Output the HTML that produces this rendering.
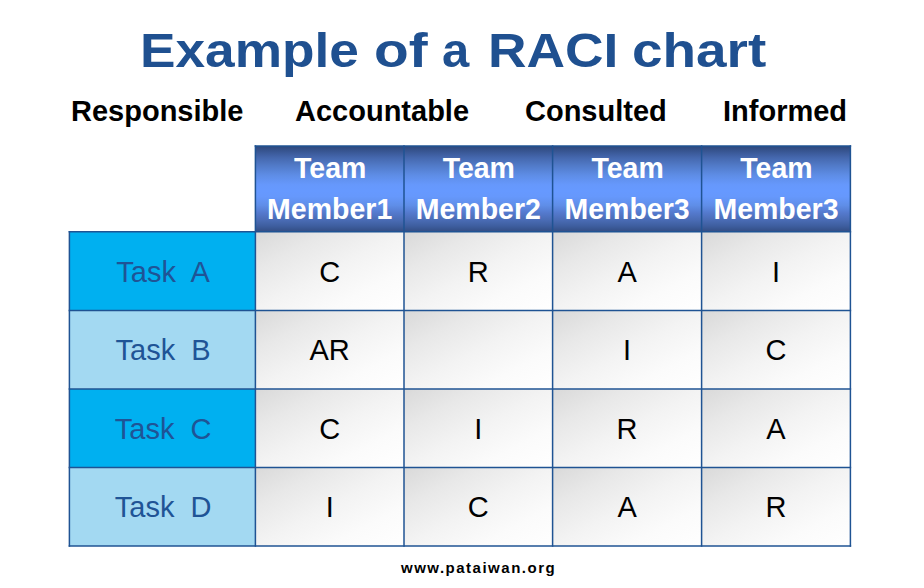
<!DOCTYPE html>
<html><head><meta charset="utf-8"><style>
html,body{margin:0;padding:0;background:#fff;width:924px;height:588px;overflow:hidden}
.b{position:absolute}
.hdr{background:linear-gradient(to bottom,#2D477B 0%,#4466AC 13%,#5079C6 22%,#5E8DE6 34%,#6698FC 45%,#6699FF 52%,#6698FC 59%,#5F8EE8 69%,#5479CC 78%,#4A6CB5 86%,#3E5E9F 93%,#324C82 100%)}
.cell{background:linear-gradient(to bottom right,#D9D9D9 0%,#E8E8E8 25%,#F3F3F3 50%,#FBFBFB 75%,#FFFFFF 100%)}
.t{position:absolute;white-space:pre;line-height:1;font-family:"Liberation Sans",sans-serif;transform-origin:0 0}
.title{font-weight:bold;font-size:48px;color:#1F5090}
.lab{font-weight:bold;font-size:29px;color:#000}
.hd{font-weight:bold;font-size:28.5px;color:#fff;text-align:center;width:148px;transform:scaleY(1.05)}
.tk{font-size:29px;color:#1F5496;text-align:center}
.cv{font-size:29px;color:#000;text-align:center}
.ft{font-weight:bold;font-size:15px;color:#000;letter-spacing:1.5px}
svg{position:absolute;left:0;top:0}
</style></head><body>
<div class="b hdr" style="left:255.4px;top:146px;width:595.0px;height:85.69999999999999px"></div><div class="b" style="left:69.4px;top:231.7px;width:186.0px;height:78.80000000000001px;background:#00B0F0"></div><div class="b cell" style="left:255.4px;top:231.7px;width:148.6px;height:78.80000000000001px"></div><div class="b cell" style="left:404.0px;top:231.7px;width:148.60000000000002px;height:78.80000000000001px"></div><div class="b cell" style="left:552.6px;top:231.7px;width:149.0px;height:78.80000000000001px"></div><div class="b cell" style="left:701.6px;top:231.7px;width:148.79999999999995px;height:78.80000000000001px"></div><div class="b" style="left:69.4px;top:310.5px;width:186.0px;height:78.39999999999998px;background:#A3D9F2"></div><div class="b cell" style="left:255.4px;top:310.5px;width:148.6px;height:78.39999999999998px"></div><div class="b cell" style="left:404.0px;top:310.5px;width:148.60000000000002px;height:78.39999999999998px"></div><div class="b cell" style="left:552.6px;top:310.5px;width:149.0px;height:78.39999999999998px"></div><div class="b cell" style="left:701.6px;top:310.5px;width:148.79999999999995px;height:78.39999999999998px"></div><div class="b" style="left:69.4px;top:388.9px;width:186.0px;height:78.5px;background:#00B0F0"></div><div class="b cell" style="left:255.4px;top:388.9px;width:148.6px;height:78.5px"></div><div class="b cell" style="left:404.0px;top:388.9px;width:148.60000000000002px;height:78.5px"></div><div class="b cell" style="left:552.6px;top:388.9px;width:149.0px;height:78.5px"></div><div class="b cell" style="left:701.6px;top:388.9px;width:148.79999999999995px;height:78.5px"></div><div class="b" style="left:69.4px;top:467.4px;width:186.0px;height:78.60000000000002px;background:#A3D9F2"></div><div class="b cell" style="left:255.4px;top:467.4px;width:148.6px;height:78.60000000000002px"></div><div class="b cell" style="left:404.0px;top:467.4px;width:148.60000000000002px;height:78.60000000000002px"></div><div class="b cell" style="left:552.6px;top:467.4px;width:149.0px;height:78.60000000000002px"></div><div class="b cell" style="left:701.6px;top:467.4px;width:148.79999999999995px;height:78.60000000000002px"></div>
<svg width="924" height="588" viewBox="0 0 924 588"><line x1="254.65" y1="146" x2="851.15" y2="146" stroke="#1F5393" stroke-width="1.5"/><line x1="68.65" y1="231.7" x2="851.15" y2="231.7" stroke="#1F5393" stroke-width="1.5"/><line x1="68.65" y1="310.5" x2="851.15" y2="310.5" stroke="#1F5393" stroke-width="1.5"/><line x1="68.65" y1="388.9" x2="851.15" y2="388.9" stroke="#1F5393" stroke-width="1.5"/><line x1="68.65" y1="467.4" x2="851.15" y2="467.4" stroke="#1F5393" stroke-width="1.5"/><line x1="68.65" y1="546.0" x2="851.15" y2="546.0" stroke="#1F5393" stroke-width="1.5"/><line x1="255.4" y1="145.25" x2="255.4" y2="546.75" stroke="#1F5393" stroke-width="1.5"/><line x1="404.0" y1="145.25" x2="404.0" y2="546.75" stroke="#1F5393" stroke-width="1.5"/><line x1="552.6" y1="145.25" x2="552.6" y2="546.75" stroke="#1F5393" stroke-width="1.5"/><line x1="701.6" y1="145.25" x2="701.6" y2="546.75" stroke="#1F5393" stroke-width="1.5"/><line x1="850.4" y1="145.25" x2="850.4" y2="546.75" stroke="#1F5393" stroke-width="1.5"/><line x1="69.4" y1="230.95" x2="69.4" y2="546.75" stroke="#1F5393" stroke-width="1.5"/></svg>
<div class="t title" style="left:139.98px;top:27px;transform:scaleX(1.1083)">Example</div>
<div class="t title" style="left:373.53px;top:27px;transform:scaleX(1.1837)">of</div>
<div class="t title" style="left:441.68px;top:27px;transform:scaleX(1.0192)">a</div>
<div class="t title" style="left:487.86px;top:27px;transform:scaleX(1.1117)">RACI</div>
<div class="t title" style="left:631.61px;top:27px;transform:scaleX(1.1435)">chart</div>
<div class="t lab" style="left:71px;top:97.2px">Responsible</div>
<div class="t lab" style="left:295px;top:97.2px">Accountable</div>
<div class="t lab" style="left:525px;top:97.2px">Consulted</div>
<div class="t lab" style="left:723px;top:97.2px">Informed</div>
<div class="t hd" style="left:256.2px;top:153.4px">Team</div>
<div class="t hd" style="left:255.7px;top:194.2px">Member1</div>
<div class="t hd" style="left:404.8px;top:153.4px">Team</div>
<div class="t hd" style="left:404.3px;top:194.2px">Member2</div>
<div class="t hd" style="left:553.6px;top:153.4px">Team</div>
<div class="t hd" style="left:553.1px;top:194.2px">Member3</div>
<div class="t hd" style="left:702.5px;top:153.4px">Team</div>
<div class="t hd" style="left:702.0px;top:194.2px">Member3</div>
<div class="t tk" style="left:70.10000000000001px;width:186.0px;top:257.5px">Task  A</div>
<div class="t cv" style="left:255.7px;width:148px;top:257.5px">C</div>
<div class="t cv" style="left:404.3px;width:148px;top:257.5px">R</div>
<div class="t cv" style="left:553.1px;width:148px;top:257.5px">A</div>
<div class="t cv" style="left:702.0px;width:148px;top:257.5px">I</div>
<div class="t tk" style="left:70.10000000000001px;width:186.0px;top:336.3px">Task  B</div>
<div class="t cv" style="left:255.7px;width:148px;top:336.3px">AR</div>
<div class="t cv" style="left:553.1px;width:148px;top:336.3px">I</div>
<div class="t cv" style="left:702.0px;width:148px;top:336.3px">C</div>
<div class="t tk" style="left:70.10000000000001px;width:186.0px;top:414.7px">Task  C</div>
<div class="t cv" style="left:255.7px;width:148px;top:414.7px">C</div>
<div class="t cv" style="left:404.3px;width:148px;top:414.7px">I</div>
<div class="t cv" style="left:553.1px;width:148px;top:414.7px">R</div>
<div class="t cv" style="left:702.0px;width:148px;top:414.7px">A</div>
<div class="t tk" style="left:70.10000000000001px;width:186.0px;top:493.2px">Task  D</div>
<div class="t cv" style="left:255.7px;width:148px;top:493.2px">I</div>
<div class="t cv" style="left:404.3px;width:148px;top:493.2px">C</div>
<div class="t cv" style="left:553.1px;width:148px;top:493.2px">A</div>
<div class="t cv" style="left:702.0px;width:148px;top:493.2px">R</div>
<div class="t ft" style="left:401px;top:560px">www.pataiwan.org</div>
</body></html>
